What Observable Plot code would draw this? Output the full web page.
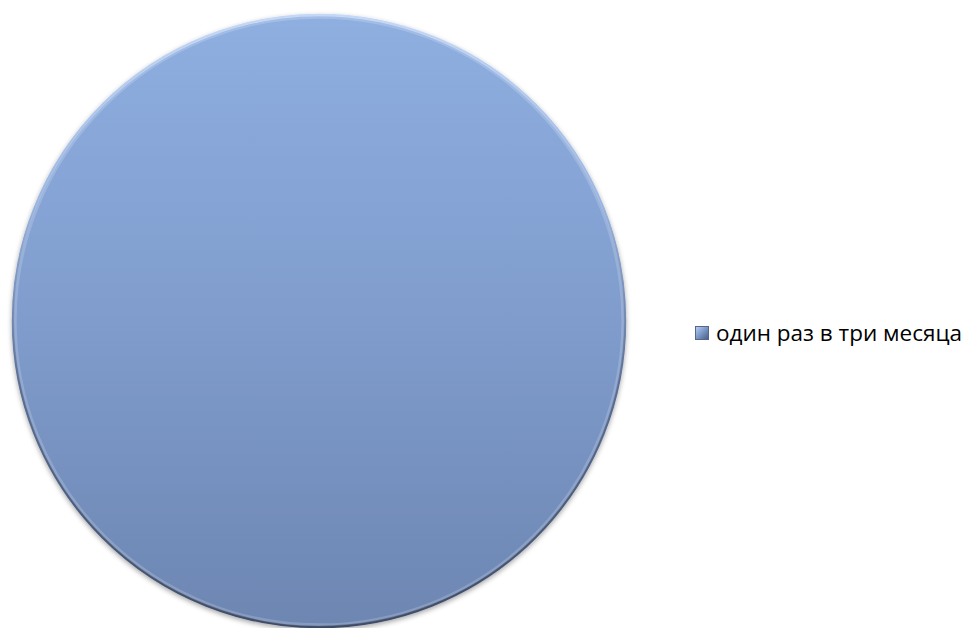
<!DOCTYPE html>
<html>
<head>
<meta charset="utf-8">
<script src="https://cdn.jsdelivr.net/npm/d3@7"></script>
<script src="https://cdn.jsdelivr.net/npm/@observablehq/plot@0.6"></script>
<style>
  html, body { margin: 0; padding: 0; background: #fff; }
  #wrap { position: relative; width: 973px; height: 628px; overflow: hidden; }
  #legend { position: absolute; left: 695px; top: 317px; display: flex; align-items: center;
            font-family: "Open Sans", sans-serif; font-size: 22.5px; color: #000; white-space: nowrap; }
  #legend .sw { width: 14px; height: 14px; margin-right: 7px; box-sizing: border-box;
            background: linear-gradient(135deg, #b9cdee 0%, #7f9bcb 45%, #4a5f86 100%);
            border: 1px solid #55688c; }
</style>
</head>
<body>
<div id="wrap"></div>
<script>
const categories = ["один раз в три месяца"];
const values = [100];

const data = categories.map((c, i) => ({category: c, value: values[i]}));

const defs = () => {
  const s = d3.create("svg:g");
  const d = s.append("defs");
  const g = d.append("linearGradient").attr("id", "pieFill").attr("x1", 0).attr("y1", 0).attr("x2", 0).attr("y2", 1);
  g.append("stop").attr("offset", "0%").attr("stop-color", "#8fafe1");
  g.append("stop").attr("offset", "50%").attr("stop-color", "#7f9ccc");
  g.append("stop").attr("offset", "100%").attr("stop-color", "#6d86b2");
  const e = d.append("linearGradient").attr("id", "pieEdge").attr("x1", 0).attr("y1", 0).attr("x2", 0).attr("y2", 1);
  e.append("stop").attr("offset", "0%").attr("stop-color", "#c4d8f6");
  e.append("stop").attr("offset", "30%").attr("stop-color", "#9ab6e2");
  e.append("stop").attr("offset", "60%").attr("stop-color", "#5b6f96");
  e.append("stop").attr("offset", "100%").attr("stop-color", "#3e4c68");
  const f = d.append("filter").attr("id", "shadow").attr("x", "-10%").attr("y", "-10%").attr("width", "120%").attr("height", "120%");
  f.append("feDropShadow").attr("dx", 0).attr("dy", 2).attr("stdDeviation", 2.5).attr("flood-color", "#000").attr("flood-opacity", 0.35);
  return s.node();
};

const chart = Plot.plot({
  width: 973,
  height: 628,
  marginLeft: 12,
  marginRight: 348,
  marginTop: 15,
  marginBottom: 2,
  r: {type: "linear", domain: [0, 100], range: [0, 306]},
  marks: [
    defs,
    Plot.dot(data, {r: "value", frameAnchor: "middle", fill: "url(#pieFill)", stroke: "url(#pieEdge)", strokeWidth: 2.5}),
    Plot.dot(data, {r: d => d.value * 0.993, frameAnchor: "middle", fill: "none", stroke: "#ffffff", strokeOpacity: 0.18, strokeWidth: 3})
  ]
});
d3.select(chart).selectAll("circle").filter((d, i) => i === 0).attr("filter", "url(#shadow)");
document.getElementById("wrap").appendChild(chart);

const legend = d3.select("#wrap").append("div").attr("id", "legend");
categories.forEach(c => {
  legend.append("span").attr("class", "sw");
  legend.append("span").text(c);
});
</script>
</body>
</html>
